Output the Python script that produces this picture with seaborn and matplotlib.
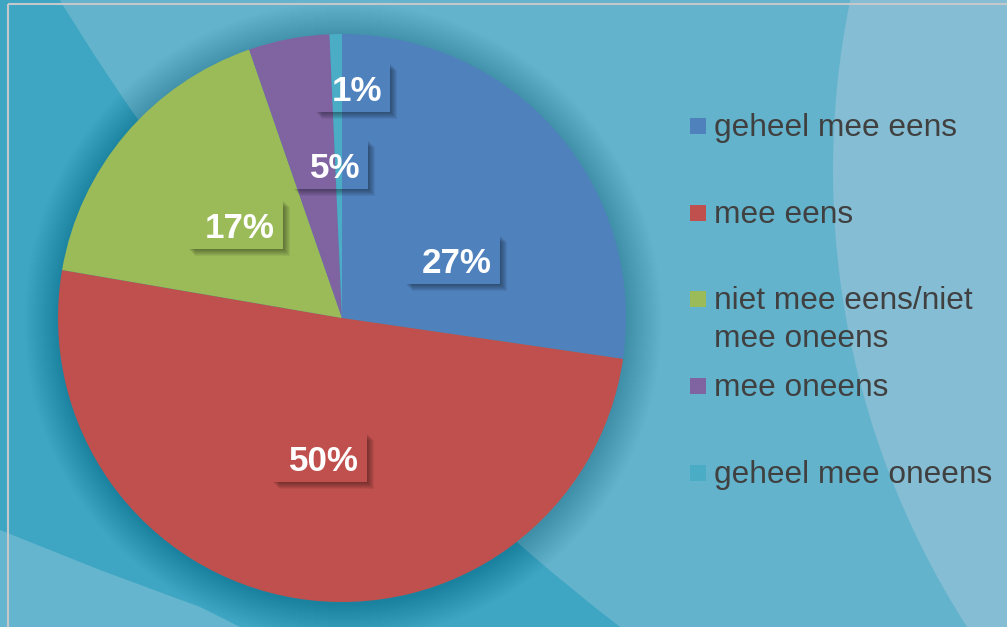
import matplotlib
matplotlib.use("Agg")
import matplotlib.pyplot as plt
import matplotlib.patches as patches
import seaborn as sns

# Daten
categories = ["geheel mee eens", "mee eens", "niet mee eens/niet\nmee oneens",
              "mee oneens", "geheel mee oneens"]
values = [27.3, 50.4, 17.0, 4.6, 0.7]
pct_labels = ["27%", "50%", "17%", "5%", "1%"]
colors = ["#4f81bd", "#c0504d", "#9bbb59", "#8064a2", "#4bacc6"]

W, H = 1007, 627
cx, cy, R = 342, 318, 284  # pie centre / radius in pixels

sns.set_style("white")
plt.rcParams['font.family'] = ['Liberation Sans', 'DejaVu Sans']

fig = plt.figure(figsize=(W / 100, H / 100), dpi=100)

# --- background (pixel coords, y down) ---
bg = fig.add_axes([0, 0, 1, 1], zorder=0)
bg.set_xlim(0, W)
bg.set_ylim(H, 0)
bg.axis('off')
bg.add_patch(patches.Rectangle((0, 0), W, H, color="#3ea6c3", lw=0))
bg.add_patch(patches.Circle((2052, -1216), 2334, color="#64b3cc", lw=0))
bg.add_patch(patches.Polygon([(0, 530), (100, 570), (200, 607), (240, 627), (0, 627)],
                             color="#66b5ce", lw=0))
bg.add_patch(patches.Circle((1679, 170), 846, color="#84bdd4", lw=0))
# soft halo round the pie
for k in range(36):
    bg.add_patch(patches.Circle((cx + 1, cy + 3), R + k, color="black",
                                alpha=0.0035, lw=0))

# --- pie ---
ax = fig.add_axes([(cx - R) / W, (H - cy - R) / H, 2 * R / W, 2 * R / H], zorder=1)
ax.pie(values, colors=colors, startangle=90, counterclock=False,
       wedgeprops=dict(linewidth=0))
ax.set_xlim(-1, 1)
ax.set_ylim(-1, 1)
ax.axis('off')

# --- overlay: labels, legend, frame ---
ov = fig.add_axes([0, 0, 1, 1], zorder=2)
ov.set_xlim(0, W)
ov.set_ylim(H, 0)
ov.axis('off')
ov.patch.set_alpha(0)

# label anchors: right edge of text, baseline (pixels)
label_pos = [(492, 273), (359, 471), (275, 238), (360, 178), (382, 101)]
texts = []
for lab, (xr, yb) in zip(pct_labels, label_pos):
    t = ov.text(xr, yb, lab, ha='right', va='baseline', color='white',
                fontsize=25.2, fontweight='bold', zorder=5)
    texts.append(t)

fig.canvas.draw()
renderer = fig.canvas.get_renderer()
for t, (xr, yb) in zip(texts, label_pos):
    bb = t.get_window_extent(renderer)
    x0 = bb.x0 - 17
    x1 = xr + 8
    y0 = yb - 38
    y1 = yb + 11
    for d in [1, 2, 3, 4, 5, 6, 7]:
        ov.add_patch(patches.Polygon(
            [(x1, y0 + d), (x1 + d, y0 + d), (x1 + d, y1 + d), (x0 + d, y1 + d),
             (x0 + d, y1), (x1, y1)],
            color="black", alpha=0.06, lw=0, zorder=3))

# legend
legend_y = [126, 213, 299, 386, 473]
for cat, c, yc in zip(categories, colors, legend_y):
    ov.add_patch(patches.Rectangle((690, yc - 8), 16, 16, color=c, lw=0))
    for j, line in enumerate(cat.split("\n")):
        ov.text(714, yc + 10 + j * 38, line, ha='left', va='baseline',
                fontsize=22.8, color="#404040")

# thin frame
ov.plot([8, W], [4, 4], color="#c4c8ca", lw=1.5, solid_capstyle='butt')
ov.plot([8, 8], [4, H], color="#c4c8ca", lw=1.5, solid_capstyle='butt')

fig.savefig("out.png", dpi=100)
